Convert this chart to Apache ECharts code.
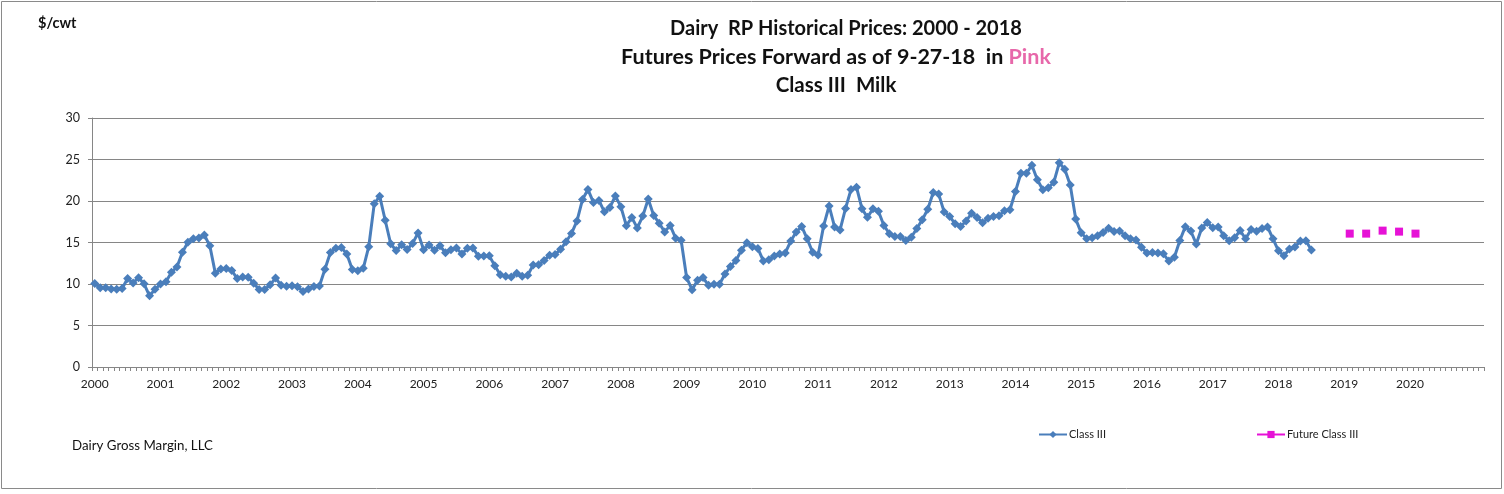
<!DOCTYPE html>
<html>
<head>
<meta charset="utf-8">
<script src="https://cdn.jsdelivr.net/npm/echarts@6/dist/echarts.min.js"></script>
<style>
html,body{margin:0;padding:0;background:#fff;}
#chart{width:1504px;height:494px;}
</style>
</head>
<body>
<div id="chart"></div>
<script>
// Axis tick labels (years shown on the category axis)
const yearLabels = ['2000','2001','2002','2003','2004','2005','2006','2007','2008','2009','2010',
  '2011','2012','2013','2014','2015','2016','2017','2018','2019','2020'];
const monthCodes = ['01','02','03','04','05','06','07','08','09','10','11','12'];
const firstYear = 2000, lastYear = 2021, categoryCount = 254;

// Class III milk price, monthly Jan 2000 - Jul 2018 ($/cwt)
const classIII = [
  10.05, 9.54, 9.54, 9.41, 9.37, 9.46, 10.66, 10.13, 10.76, 10.02, 8.57, 9.37,   // 2000
  9.99, 10.27, 11.42, 12.06, 13.83, 15.02, 15.46, 15.55, 15.90, 14.60, 11.31, 11.80, // 2001
  11.87, 11.63, 10.65, 10.85, 10.82, 10.09, 9.33, 9.33, 9.90, 10.72, 9.84, 9.74,  // 2002
  9.78, 9.66, 9.11, 9.41, 9.71, 9.75, 11.78, 13.80, 14.30, 14.39, 13.61, 11.75,   // 2003
  11.61, 11.89, 14.49, 19.66, 20.58, 17.68, 14.85, 14.04, 14.72, 14.16, 14.89, 16.14, // 2004
  14.14, 14.70, 14.08, 14.61, 13.77, 14.14, 14.35, 13.60, 14.30, 14.35, 13.35, 13.37, // 2005
  13.39, 12.20, 11.11, 10.93, 10.83, 11.29, 10.92, 11.06, 12.29, 12.32, 12.84, 13.47, // 2006
  13.56, 14.18, 15.09, 16.09, 17.60, 20.17, 21.38, 19.83, 20.07, 18.70, 19.22, 20.60, // 2007
  19.32, 17.03, 18.00, 16.76, 18.18, 20.25, 18.24, 17.32, 16.28, 17.06, 15.51, 15.28, // 2008
  10.78, 9.31, 10.44, 10.78, 9.84, 9.97, 9.97, 11.20, 12.11, 12.82, 14.08, 14.98,   // 2009
  14.50, 14.28, 12.78, 12.92, 13.38, 13.62, 13.74, 15.18, 16.26, 16.94, 15.44, 13.83, // 2010
  13.48, 17.00, 19.40, 16.87, 16.52, 19.11, 21.39, 21.67, 19.07, 18.03, 19.07, 18.77, // 2011
  17.05, 16.06, 15.72, 15.72, 15.23, 15.63, 16.68, 17.73, 19.00, 21.02, 20.83, 18.66, // 2012
  18.14, 17.25, 16.93, 17.59, 18.52, 18.02, 17.38, 17.91, 18.14, 18.22, 18.83, 18.95, // 2013
  21.15, 23.35, 23.33, 24.31, 22.57, 21.36, 21.60, 22.25, 24.60, 23.82, 21.94, 17.82, // 2014
  16.18, 15.46, 15.56, 15.81, 16.19, 16.72, 16.33, 16.39, 15.82, 15.46, 15.30, 14.44, // 2015
  13.72, 13.80, 13.74, 13.63, 12.76, 13.22, 15.24, 16.91, 16.39, 14.82, 16.76, 17.40, // 2016
  16.77, 16.88, 15.81, 15.22, 15.57, 16.44, 15.45, 16.57, 16.36, 16.69, 16.88, 15.44, // 2017
  14.00, 13.40, 14.22, 14.47, 15.18, 15.21, 14.10                                     // 2018
];

// Futures (as of 9-27-18)
const futureMonths = ['2019-02','2019-05','2019-08','2019-11','2020-02'];
const futureValues = [16.07, 16.07, 16.43, 16.31, 16.07];

// Build monthly categories
const categories = [];
for (let y = firstYear; y <= lastYear; y++) {
  for (const m of monthCodes) categories.push(y + '-' + m);
}
categories.length = categoryCount;

const futureSeries = categories.map(c => {
  const i = futureMonths.indexOf(c);
  return i >= 0 ? futureValues[i] : null;
});

const blue = '#4a7ebb';
const pink = '#e612d6';
const font = 'Lato, "Open Sans", sans-serif';

const chart = echarts.init(document.getElementById('chart'));
chart.setOption({
  animation: false,
  backgroundColor: '#fff',
  grid: { left: 92, right: 20, top: 118, bottom: 127, containLabel: false },
  xAxis: {
    type: 'category',
    data: categories,
    boundaryGap: true,
    axisLine: { lineStyle: { color: '#868686', width: 1 } },
    axisTick: { show: true, interval: 0, length: 4, lineStyle: { color: '#868686' } },
    axisLabel: {
      interval: (idx, val) => val.endsWith('-01') && yearLabels.includes(val.slice(0, 4)),
      formatter: val => val.slice(0, 4),
      fontFamily: font, fontSize: 12, color: '#222', margin: 11
    },
    splitLine: { show: false }
  },
  yAxis: {
    type: 'value',
    min: 0, max: 30, interval: 5,
    axisLine: { show: true, lineStyle: { color: '#868686', width: 1 } },
    axisTick: { show: true, length: 4, lineStyle: { color: '#868686' } },
    axisLabel: { fontFamily: font, fontSize: 12.5, color: '#222', margin: 12 },
    splitLine: { show: true, lineStyle: { color: '#868686', width: 1 } }
  },
  legend: {
    left: 1033, top: 424,
    itemGap: 150, itemWidth: 28, itemHeight: 9,
    textStyle: { fontFamily: font, fontSize: 11, color: '#222', padding: [0, 0, 0, -3] },
    data: ['Class III', 'Future Class III']
  },
  series: [
    {
      name: 'Class III', type: 'line',
      data: classIII,
      color: blue,
      lineStyle: { color: blue, width: 3 },
      symbol: 'diamond', symbolSize: 9,
      showSymbol: true, showAllSymbol: true,
      itemStyle: { color: blue },
      emphasis: { disabled: true }
    },
    {
      name: 'Future Class III', type: 'line',
      data: futureSeries,
      connectNulls: false,
      color: pink,
      lineStyle: { color: pink, width: 1.5 },
      symbol: 'rect', symbolSize: 8,
      showSymbol: true, showAllSymbol: true,
      itemStyle: { color: pink },
      emphasis: { disabled: true }
    }
  ],
  graphic: [
    { type: 'rect', shape: { x: 1.5, y: 1.5, width: 1500, height: 487 },
      style: { fill: null, stroke: '#8a8a8a', lineWidth: 1 }, silent: true, z: 100 },
    { type: 'text', left: 38, top: 16,
      style: { text: '$/cwt', font: 'bold 14.5px ' + font, fill: '#111' } },
    { type: 'text', left: 72, top: 439,
      style: { text: 'Dairy Gross Margin, LLC', font: '13.3px ' + font, fill: '#111' } },
    { type: 'text', x: 846, y: 29,
      style: { text: 'Dairy  RP Historical Prices: 2000 - 2018', font: 'bold 20px ' + font,
        fill: '#111', align: 'center', verticalAlign: 'middle' } },
    { type: 'text', x: 836, y: 57,
      style: { text: '{a|Futures Prices Forward as of 9-27-18  in }{p|Pink}',
        align: 'center', verticalAlign: 'middle',
        rich: {
          a: { font: 'bold 21.5px ' + font, fill: '#111' },
          p: { font: 'bold 21.5px ' + font, fill: '#e768aa' }
        } } },
    { type: 'text', x: 836, y: 85,
      style: { text: 'Class III  Milk', font: 'bold 20.5px ' + font, fill: '#111',
        align: 'center', verticalAlign: 'middle' } }
  ]
});
</script>
</body>
</html>
